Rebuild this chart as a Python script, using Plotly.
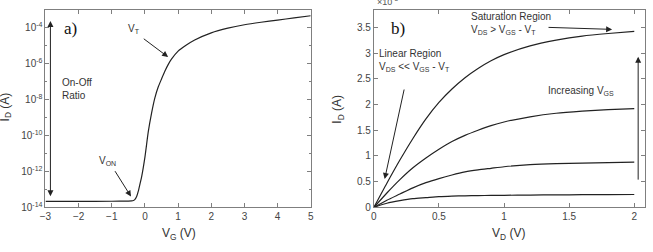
import plotly.graph_objects as go

# ---- data: panel a (transfer curve) ----
vg = [-3, -2, -1, -0.5, -0.4, -0.35, -0.3, -0.25, -0.2, -0.15, -0.1, 0, 0.1, 0.2, 0.3, 0.4,
      0.5, 0.6, 0.7, 0.8, 1.0, 1.25, 1.5, 2.0, 2.5, 3.0, 3.5, 4.0, 4.5, 5.0]
log_id = [-13.67, -13.67, -13.66, -13.65, -13.64, -13.62, -13.55, -13.4, -13.1, -12.7, -12.3,
          -11.2, -9.8, -8.75, -7.9, -7.3, -6.85, -6.42, -6.05, -5.75, -5.3, -4.96, -4.68, -4.28,
          -4.02, -3.83, -3.69, -3.57, -3.45, -3.33]
id_a = [10 ** v for v in log_id]

# ---- data: panel b (output curves, units of 1e-3 A) ----
vd = [0, 0.1, 0.2, 0.3, 0.4, 0.5, 0.6, 0.7, 0.8, 0.9, 1.0, 1.2, 1.4, 1.6, 1.8, 2.0]
id_1 = [0, 0.47, 0.92, 1.34, 1.72, 2.04, 2.30, 2.52, 2.70, 2.85, 2.97, 3.14, 3.25, 3.33, 3.38, 3.42]
id_2 = [0, 0.28, 0.54, 0.77, 0.96, 1.13, 1.28, 1.40, 1.50, 1.59, 1.66, 1.76, 1.83, 1.87, 1.90, 1.92]
id_3 = [0, 0.14, 0.26, 0.38, 0.48, 0.56, 0.63, 0.69, 0.73, 0.76, 0.79, 0.83, 0.85, 0.86, 0.87, 0.88]
id_4 = [0, 0.08, 0.13, 0.17, 0.19, 0.21, 0.22, 0.225, 0.23, 0.232, 0.235, 0.24, 0.243, 0.246, 0.248, 0.25]

ya_ticks = [1e-14, 1e-12, 1e-10, 1e-8, 1e-6, 1e-4]
ya_text = ["10<sup>-14</sup>", "10<sup>-12</sup>", "10<sup>-10</sup>", "10<sup>-8</sup>",
           "10<sup>-6</sup>", "10<sup>-4</sup>"]
ya_minor = [1e-13, 1e-11, 1e-9, 1e-7, 1e-5, 1e-3]

FONT = "Arial, Liberation Sans, sans-serif"
AX = "#7f7f7f"
TXT = "#333333"

fig = go.Figure()
line = dict(color="#222222", width=1.2, shape="spline", smoothing=0.6)
fig.add_trace(go.Scatter(x=vg, y=id_a, mode="lines", line=line, xaxis="x", yaxis="y", showlegend=False))
for c in (id_1, id_2, id_3, id_4):
    fig.add_trace(go.Scatter(x=vd, y=c, mode="lines", line=line, xaxis="x2", yaxis="y2", showlegend=False))

axcommon = dict(showline=True, linecolor=AX, linewidth=1, mirror="ticks", ticks="inside",
                ticklen=4, tickcolor=AX, showgrid=False, zeroline=False,
                tickfont=dict(family=FONT, size=10, color="#444444"))

fig.update_layout(
    width=653, height=252, margin=dict(l=0, r=0, t=0, b=0),
    paper_bgcolor="white", plot_bgcolor="white",
    font=dict(family=FONT, color=TXT),
    xaxis=dict(domain=[40 / 653, 309 / 653], range=[-3, 5], tickvals=list(range(-3, 6)),
               anchor="y", **axcommon),
    yaxis=dict(domain=[0.157, 0.960], type="log", range=[-14, -3], tickvals=ya_ticks,
               ticktext=ya_text, anchor="x",
               minor=dict(tickvals=ya_minor, ticks="inside", ticklen=2, tickcolor=AX),
               **axcommon),
    xaxis2=dict(domain=[373 / 653, 648 / 653], range=[0, 2.083], tickvals=[0, 0.5, 1, 1.5, 2],
                anchor="y2", **axcommon),
    yaxis2=dict(domain=[0.157, 0.960], range=[0, 3.84], tickvals=[0, 0.5, 1, 1.5, 2, 2.5, 3, 3.5],
                anchor="x2", **axcommon),
)

def px_x(X):
    return X / 653

def px_y(Y):
    return (252 - Y) / 252

anns = []
small = dict(family=FONT, size=10, color=TXT)
big = dict(family=FONT, size=12, color=TXT)
serif = dict(family="Liberation Serif, Times New Roman, serif", size=17, color="#111111")

def label(X, Y, text, font, xa="left", ya="middle", **kw):
    anns.append(dict(xref="paper", yref="paper", x=px_x(X), y=px_y(Y), text=text, showarrow=False,
                     xanchor=xa, yanchor=ya, align="left", font=font, **kw))

# axis titles
label(175, 240, "V<sub>G</sub> (V)", big, xa="center")
label(510, 240, "V<sub>D</sub> (V)", big, xa="center")
label(337, 112, "I<sub>D</sub> (A)", big, xa="center", textangle=-90)
label(0, 110, "I<sub>D</sub> (A)", big, xa="center", textangle=-90)
label(374, 9, "\u00d710<sup>-3</sup>", dict(family=FONT, size=9, color="#555555"), ya="bottom")
# panel labels
label(65, 29, "a)", serif, xa="center")
label(397, 29, "b)", serif, xa="center")
# panel a texts
label(55, 91, "On-Off<br>Ratio", small)
label(122, 30, "V<sub>T</sub>", small)
label(92, 165, "V<sub>ON</sub>", small)
# panel b texts
label(469, 24, "Saturation Region<br>V<sub>DS</sub> > V<sub>GS</sub> - V<sub>T</sub>", small)
label(376, 62, "Linear Region<br>V<sub>DS</sub> << V<sub>GS</sub> - V<sub>T</sub>", small)
label(548, 93, "Increasing V<sub>GS</sub>", small)

# arrows
arr = dict(showarrow=True, arrowhead=2, arrowsize=1.2, arrowwidth=1, arrowcolor="#222222", text="")
anns.append(dict(xref="x", yref="y", x=0.70, y=-5.63, axref="x", ayref="y", ax=-0.08, ay=-4.55, **arr))
anns.append(dict(xref="x", yref="y", x=-0.42, y=-13.4, axref="x", ayref="y", ax=-0.93, ay=-11.9, **arr))
anns.append(dict(xref="x", yref="y", x=-2.85, y=-3.62, axref="x", ayref="y", ax=-2.85, ay=-13.46,
                 arrowside="end+start", **arr))
anns.append(dict(xref="x2", yref="y2", x=1.83, y=3.46, axref="x2", ayref="y2", ax=1.33, ay=3.5, **arr))
anns.append(dict(xref="x2", yref="y2", x=0.083, y=0.55, axref="x2", ayref="y2", ax=0.235, ay=2.32, **arr))
anns.append(dict(xref="x2", yref="y2", x=2.03, y=2.93, axref="x2", ayref="y2", ax=2.03, ay=0.51, **arr))

fig.update_layout(annotations=anns)
fig.write_html("out.html")
